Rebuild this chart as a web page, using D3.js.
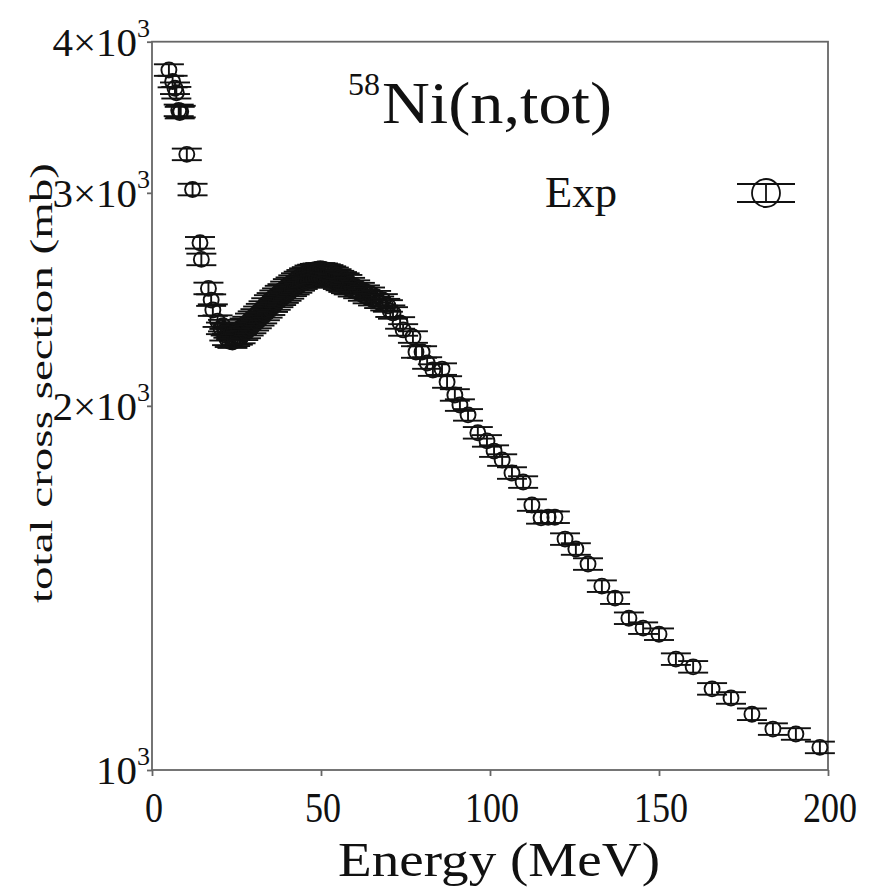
<!DOCTYPE html>
<html>
<head>
<meta charset="utf-8">
<script src="https://cdn.jsdelivr.net/npm/d3@7/dist/d3.min.js"></script>
<style>
  html, body { margin: 0; padding: 0; background: #fff; }
  svg text { font-family: "Liberation Serif", "Times New Roman", serif; fill: #111; }
</style>
</head>
<body>
<svg id="chart" width="872" height="894"></svg>
<script>
// 58Ni neutron total cross section, measured points (MeV, mb)
const energy = [
  5.0, 6.1, 6.8, 7.2, 7.9, 8.2, 8.5, 10.3, 12.0, 14.2, 14.6, 16.7, 17.5, 18.0, 19.4, 20.4,
  21.0, 21.4, 21.8, 22.2, 22.6, 23.0, 23.4, 23.8, 24.2, 24.6, 25.0, 25.4, 25.8, 26.2, 26.6,
  27.0, 27.4, 27.8, 28.2, 28.6, 29.0, 29.4, 29.8, 30.2, 30.6, 31.0, 31.4, 31.8, 32.2, 32.6,
  33.0, 33.4, 33.8, 34.2, 34.6, 35.0, 35.4, 35.8, 36.2, 36.6, 37.0, 37.4, 37.8, 38.2, 38.6,
  39.0, 39.4, 39.8, 40.2, 40.6, 41.0, 41.4, 41.8, 42.2, 42.6, 43.0, 43.4, 43.8, 44.2, 44.6,
  45.0, 45.4, 45.8, 46.2, 46.6, 47.0, 47.4, 47.8, 48.2, 48.6, 49.0, 49.4, 49.8, 50.2, 50.6,
  51.0, 51.4, 51.8, 52.2, 52.6, 53.0, 53.4, 53.8, 54.2, 54.6, 55.0, 55.4, 55.8, 56.2, 56.6,
  57.0, 57.4, 57.8, 58.2, 58.6, 59.4, 60.1, 61.0, 61.5, 62.4, 63.0, 63.8, 64.5, 65.4, 66.3,
  67.2, 68.3, 69.0, 69.8, 70.5, 71.3, 73.4, 74.3, 77.2, 78.1, 79.9,
  81.4, 83.1, 85.8, 87.3, 89.6, 91.1, 93.5, 96.4, 99.1, 101.2, 103.6, 106.5, 109.8, 112.4,
  115.1, 117.2, 119.2, 122.2, 125.4, 129.0, 133.1, 137.0, 141.1, 145.3, 150.0, 155.0, 160.1,
  165.7, 171.3, 177.5, 183.7, 190.5, 197.6
];
const sigma = [
  3790, 3708, 3661, 3630, 3510, 3495, 3502, 3228, 3019, 2728, 2643, 2501, 2446, 2400, 2350, 2318,
  2330, 2290, 2312, 2270, 2302, 2262, 2296, 2258, 2300, 2266, 2306, 2272, 2316, 2278, 2318,
  2292, 2336, 2300, 2344, 2312, 2358, 2322, 2368, 2334, 2378, 2344, 2390, 2356, 2402, 2366,
  2414, 2380, 2428, 2392, 2442, 2404, 2452, 2418, 2464, 2428, 2474, 2440, 2486, 2450, 2494,
  2460, 2506, 2470, 2518, 2480, 2526, 2492, 2536, 2500, 2546, 2508, 2554, 2518, 2562, 2526,
  2570, 2532, 2576, 2538, 2584, 2544, 2588, 2548, 2592, 2552, 2594, 2554, 2596, 2554, 2594,
  2552, 2590, 2548, 2586, 2544, 2580, 2538, 2574, 2532, 2566, 2526, 2558, 2520, 2552, 2512,
  2546, 2506, 2538, 2500, 2524, 2490, 2512, 2482, 2500, 2470, 2488, 2458, 2478, 2448, 2462,
  2436, 2447, 2425, 2419, 2395, 2387, 2342, 2311, 2280, 2216, 2216,
  2170, 2141, 2145, 2093, 2042, 2003, 1966, 1900, 1871, 1835, 1804, 1760, 1730, 1656,
  1616, 1618, 1618, 1552, 1523, 1480, 1419, 1387, 1335, 1310, 1295, 1235, 1217,
  1167, 1147, 1112, 1081, 1071, 1044
];
// relative uncertainty of each point
const relErr = 0.011;

const xTicks = [0, 50, 100, 150, 200];
const yTicks = [1000, 2000, 3000, 4000];
const yTickMant = ["10", "2\u00d710", "3\u00d710", "4\u00d710"];
const yTickExp = ["3", "3", "3", "3"];

const points = energy.map((e, i) => ({ e, s: sigma[i] }));

const svg = d3.select("#chart");
const plotL = 152, plotR = 828, plotT = 41.7, plotB = 770;

const x = d3.scaleLinear().domain([0, 200]).range([plotL, plotR]);
const y = d3.scaleLog().domain([1000, 4000]).range([plotB, plotT]);

const axisColor = "#666";

// frame
svg.append("rect")
  .attr("x", plotL).attr("y", plotT)
  .attr("width", plotR - plotL).attr("height", plotB - plotT)
  .attr("fill", "none").attr("stroke", axisColor).attr("stroke-width", 1.8);

// x axis ticks and labels
const xAxis = d3.axisBottom(x).tickValues(xTicks).tickSize(6).tickFormat("");
const gx = svg.append("g").attr("transform", `translate(0,${plotB})`).call(xAxis);
gx.select(".domain").remove();
gx.selectAll("line").attr("stroke", axisColor).attr("stroke-width", 1.8);

svg.append("g").selectAll("text").data(xTicks).join("text")
  .attr("x", d => x(d) + 2).attr("y", 822)
  .attr("text-anchor", "middle")
  .attr("font-size", 43)
  .attr("transform", d => `translate(${x(d) + 2},0) scale(0.84,1) translate(${-(x(d) + 2)},0)`)
  .text(d => d);

// y axis ticks and labels
const yAxis = d3.axisLeft(y).tickValues(yTicks).tickSize(5).tickFormat("");
const gy = svg.append("g").attr("transform", `translate(${plotL},0)`).call(yAxis);
gy.select(".domain").remove();
gy.selectAll("line").attr("stroke", axisColor).attr("stroke-width", 1.8);

const yl = svg.append("g").selectAll("text").data(yTicks).join("text")
  .attr("x", 150).attr("y", d => y(d) + 14)
  .attr("text-anchor", "end")
  .attr("font-size", 41);
yl.append("tspan").text((d, i) => yTickMant[i]);
yl.append("tspan").attr("font-size", 26).attr("dy", -19).text((d, i) => yTickExp[i]);

// axis titles
svg.append("text")
  .attr("x", 338).attr("y", 876)
  .attr("font-size", 48)
  .attr("textLength", 322).attr("lengthAdjust", "spacingAndGlyphs")
  .text("Energy (MeV)");

svg.append("text")
  .attr("transform", "translate(52,603) rotate(-90)")
  .attr("font-size", 32)
  .attr("textLength", 440).attr("lengthAdjust", "spacingAndGlyphs")
  .text("total cross section (mb)");

// reaction label
svg.append("text").attr("x", 348).attr("y", 95).attr("font-size", 32).text("58");
svg.append("text").attr("x", 382).attr("y", 123).attr("font-size", 60)
  .attr("textLength", 230).attr("lengthAdjust", "spacingAndGlyphs")
  .text("Ni(n,tot)");

// data: error bars with wide caps plus open circles
const capHalf = 15, r = 7.5;
const pg = svg.append("g").attr("stroke", "#111").attr("stroke-width", 1.9).attr("fill", "none");
const mk = pg.selectAll("g").data(points).join("g");
mk.append("line")
  .attr("x1", d => x(d.e)).attr("x2", d => x(d.e))
  .attr("y1", d => y(d.s * (1 + relErr))).attr("y2", d => y(d.s * (1 - relErr)));
mk.append("line")
  .attr("x1", d => x(d.e) - capHalf).attr("x2", d => x(d.e) + capHalf)
  .attr("y1", d => y(d.s * (1 + relErr))).attr("y2", d => y(d.s * (1 + relErr)));
mk.append("line")
  .attr("x1", d => x(d.e) - capHalf).attr("x2", d => x(d.e) + capHalf)
  .attr("y1", d => y(d.s * (1 - relErr))).attr("y2", d => y(d.s * (1 - relErr)));
mk.append("circle")
  .attr("cx", d => x(d.e)).attr("cy", d => y(d.s)).attr("r", r);

// legend
svg.append("text")
  .attr("x", 545).attr("y", 207)
  .attr("font-size", 45)
  .attr("textLength", 72).attr("lengthAdjust", "spacingAndGlyphs")
  .text("Exp");
const lg = svg.append("g").attr("stroke", "#111").attr("stroke-width", 1.8).attr("fill", "none");
const lx = 766, ly = 193;
lg.append("line").attr("x1", lx - 29).attr("x2", lx + 29).attr("y1", ly - 9).attr("y2", ly - 9);
lg.append("line").attr("x1", lx - 29).attr("x2", lx + 29).attr("y1", ly + 9).attr("y2", ly + 9);
lg.append("line").attr("x1", lx).attr("x2", lx).attr("y1", ly - 9).attr("y2", ly + 9);
lg.append("circle").attr("cx", lx).attr("cy", ly).attr("r", 14);
</script>
</body>
</html>
